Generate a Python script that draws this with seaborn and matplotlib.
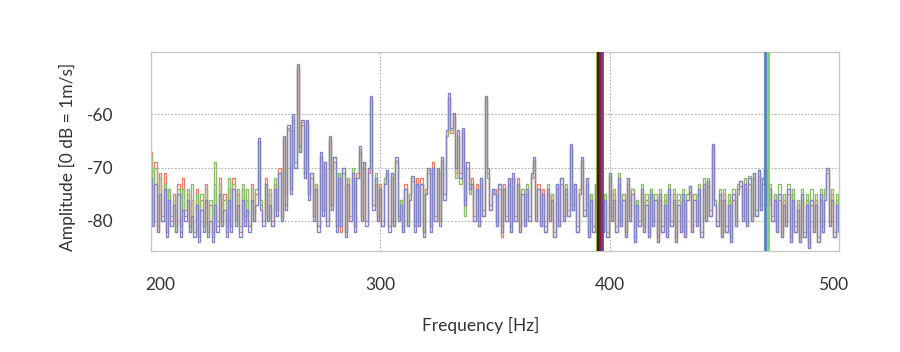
import matplotlib
matplotlib.use("Agg")
import matplotlib.pyplot as plt
import matplotlib.transforms as mtransforms
import numpy as np
import pandas as pd
import seaborn as sns

freq = list(range(200, 501))

blue = [
    -72, -81, -73, -82, -75, -80, -74, -83, -76, -81,
    -77, -82, -75, -83, -78, -80, -76, -82, -79, -83,
    -77, -84, -78, -82, -76, -83, -80, -84, -77, -82,
    -75, -81, -78, -83, -76, -82, -74, -81, -77, -83,
    -76, -81, -78, -82, -76, -80, -77, -64.5, -78, -81,
    -73, -80, -77, -81, -74, -79, -71, -80, -64, -78,
    -62, -75, -60, -70, -50.5, -67, -61, -72, -61, -76,
    -71, -80, -74, -82, -67, -79, -69, -81, -64, -78,
    -68, -82, -72, -81, -70, -83, -73, -80, -71, -82,
    -72, -66, -80, -69, -81, -70, -56.5, -78, -72, -80,
    -74, -81, -73, -70.5, -82, -71, -81, -68, -80, -77,
    -82, -74, -81, -76, -71.5, -82, -73, -81, -73, -83,
    -75, -70, -82, -70, -80, -70, -81, -68, -76, -63,
    -56, -62.5, -59.8, -70, -63, -72, -62.5, -77, -69, -74,
    -73, -80, -74, -81, -72, -79, -56.5, -70, -78, -74,
    -75, -81, -73, -82, -74, -80, -72, -82, -71, -80,
    -73, -82, -75, -81, -74, -80, -71, -68, -80, -74,
    -81, -75, -82, -74, -80, -76, -83, -73, -81, -72,
    -80, -74, -79, -65.5, -78, -73, -82, -75, -68, -79,
    -72, -83, -76, -82, -73, -80, -74, -82, -76, -83,
    -71, -80, -76, -82, -72, -81, -76, -83, -72, -80,
    -75, -84, -77, -81, -74, -82, -77, -83, -75, -81,
    -76, -84, -75, -82, -77, -83, -74, -81, -76, -84,
    -77, -82, -75, -83, -76, -73.5, -82, -76, -81, -74,
    -83, -73, -80, -72.5, -79, -65.5, -77, -81, -75, -83,
    -76, -82, -77, -84, -75, -81, -74, -72.5, -80, -73,
    -81, -72, -80, -71, -79, -70.5, -78, -72, -70, -77,
    -74, -80, -76, -82, -75, -83, -77, -81, -74, -84,
    -76, -82, -78, -84, -75, -83, -77, -85, -76, -82,
    -77, -84, -75, -82, -76, -70, -81, -76, -83, -77, -82,
]

red = [
    -67, -80, -69, -82, -71, -79, -71, -82, -74, -80,
    -75, -81, -73, -82, -72, -79, -75, -81, -76, -82,
    -74, -83, -76, -81, -73, -82, -77, -83, -73, -81,
    -72, -80, -75, -82, -74, -81, -72, -80, -75, -82,
    -74, -79, -76, -81, -73, -80, -75, -65, -77, -80,
    -72, -79, -75, -80, -73, -78, -70, -79, -65, -77,
    -63, -74, -61, -69, -51.5, -66, -62, -71, -62, -75,
    -72, -79, -73, -81, -68, -78, -70, -80, -65, -77,
    -69, -81, -71, -82, -71, -82, -72, -80, -72, -81,
    -71, -67, -80, -70, -80, -71, -57.5, -77, -73, -80,
    -73, -81, -72, -71, -81, -72, -81, -69, -80, -76,
    -82, -73, -81, -75, -72.5, -81, -72, -81, -72, -82,
    -74, -71, -81, -69, -80, -71, -80, -69, -75, -64,
    -57, -63.5, -60.5, -71, -64, -71, -63.5, -76, -70, -73,
    -72, -80, -73, -81, -73, -79, -57.5, -71, -78, -75,
    -74, -81, -74, -83, -73, -80, -73, -82, -72, -80,
    -72, -82, -74, -81, -75, -80, -72, -69, -80, -73,
    -81, -74, -82, -75, -80, -75, -83, -74, -81, -73,
    -80, -75, -79, -66.5, -78, -74, -82, -74, -69, -79,
    -73, -83, -75, -82, -74, -80, -73, -82, -75, -83,
    -72, -80, -75, -82, -73, -81, -75, -83, -73, -80,
    -74, -84, -76, -81, -75, -82, -76, -83, -74, -81,
    -75, -84, -76, -82, -76, -83, -75, -81, -75, -84,
    -76, -82, -76, -83, -75, -74.5, -82, -75, -81, -75,
    -83, -74, -80, -73.5, -79, -66.5, -76, -81, -76, -83,
    -75, -82, -76, -84, -76, -81, -75, -73.5, -80, -74,
    -81, -73, -80, -72, -79, -71.5, -78, -73, -71, -77,
    -75, -80, -75, -82, -76, -83, -76, -81, -75, -84,
    -75, -82, -77, -84, -76, -83, -76, -85, -77, -82,
    -76, -84, -76, -82, -75, -71, -81, -75, -83, -76, -82,
]

green = [
    -68, -81, -70, -81, -72, -80, -73, -82, -74, -79,
    -76, -82, -74, -81, -74, -78, -74, -82, -73, -82,
    -75, -83, -75, -81, -74, -82, -76, -82, -69, -80,
    -73, -81, -76, -81, -72, -81, -73, -80, -74, -81,
    -73, -80, -74, -81, -74, -80, -74, -65, -76, -80,
    -73, -80, -74, -81, -72, -78, -71, -80, -64.5, -75,
    -62.5, -74, -60.5, -70, -51, -67, -61.5, -72, -61.5, -75,
    -71, -79, -73, -81, -68, -78, -69, -80, -64.5, -77,
    -68, -81, -71, -80, -70, -82, -72, -79, -70, -81,
    -72, -66.5, -79, -69, -80, -70, -57, -77, -71, -79,
    -74, -80, -72, -71, -81, -71, -80, -68.5, -79, -76,
    -81, -74, -80, -75, -72, -81, -73, -80, -73, -82,
    -75, -70.5, -81, -70, -79, -70.5, -80, -68.5, -75, -64,
    -57, -63, -60, -72, -64, -73, -63, -79, -70, -75,
    -73, -79, -74, -80, -72, -78, -57, -72, -77, -74,
    -75, -80, -73, -81, -74, -79, -72, -81, -72, -79,
    -73, -81, -74, -80, -73, -79, -71, -68.5, -79, -74,
    -80, -75, -81, -73, -79, -75, -82, -73, -80, -72,
    -79, -73, -78, -66, -77, -73, -81, -74, -68.5, -78,
    -72, -82, -75, -81, -73, -79, -73, -81, -75, -82,
    -71, -79, -74, -81, -71, -80, -75, -82, -72, -79,
    -74, -83, -76, -80, -73, -81, -75, -82, -74, -80,
    -75, -83, -74, -81, -75, -82, -73, -80, -74, -83,
    -75, -81, -74, -82, -75, -73.5, -81, -75, -80, -73,
    -82, -72, -79, -72, -78, -66, -76, -80, -74, -82,
    -74, -81, -75, -83, -74, -80, -73, -72.5, -79, -72,
    -80, -71.5, -79, -71, -78, -70.5, -77, -72, -70, -76,
    -73, -79, -75, -81, -73, -82, -75, -80, -73, -83,
    -74, -81, -76, -83, -74, -82, -75, -84, -74, -81,
    -75, -83, -74, -81, -74, -70.5, -80, -74, -82, -75, -81,
]

series_names = ["red", "green", "blue"]
series_colors = ["#e8806c", "#8cbc6c", "#8282c4"]

marker_freqs = [394.4, 395.1, 395.8, 396.5, 467.9, 469.0]
marker_colors = ["#9a9a30", "#202020", "#8b2030", "#7a3a8a", "#4f86b4", "#7ccc78"]

df = pd.DataFrame({
    "freq": freq * 3,
    "amp": red + green + blue,
    "series": ["red"] * len(freq) + ["green"] * len(freq) + ["blue"] * len(freq),
})

sns.set_theme(style="white")
plt.rcParams["font.family"] = ["Lato", "DejaVu Sans"]
plt.rcParams["axes.unicode_minus"] = False

fig = plt.figure(figsize=(9, 3.52), dpi=100)
ax = fig.add_axes([151 / 900, 1 - 250.5 / 352, (839 - 151) / 900, (250.5 - 51.5) / 352])

sns.lineplot(data=df, x="freq", y="amp", hue="series", hue_order=series_names,
             palette=series_colors, drawstyle="steps-mid", linewidth=0.95,
             legend=False, ax=ax, estimator=None, sort=False)

for f, c in zip(marker_freqs, marker_colors):
    ax.axvline(f, color=c, linewidth=2.0, zorder=5)

ax.set_xlim(200, 500)
ax.set_ylim(-85.55, -48.2)
ax.set_xticks([200, 300, 400, 500])
ax.set_yticks([-60, -70, -80])
ax.grid(True, color="#b0b0b0", linestyle=(0, (1.5, 1.5)), linewidth=0.8)
ax.set_axisbelow(True)
for s in ax.spines.values():
    s.set_color("#c8c8c8")
    s.set_linewidth(1.0)

txt_color = "#333333"
ax.tick_params(axis="x", length=0, pad=19, labelsize=12.5, labelcolor=txt_color)
ax.tick_params(axis="y", length=0, pad=27, labelsize=12.5, labelcolor=txt_color)

labs = ax.get_xticklabels()
labs[0].set_transform(labs[0].get_transform() + mtransforms.ScaledTranslation(9 / 100, 0, fig.dpi_scale_trans))
labs[-1].set_transform(labs[-1].get_transform() + mtransforms.ScaledTranslation(-6 / 100, 0, fig.dpi_scale_trans))

ax.set_xlabel("Frequency [Hz]", fontsize=12.5, color=txt_color)
ax.set_ylabel("Amplitude [0 dB = 1m/s]", fontsize=12.5, color=txt_color)
ax.xaxis.set_label_coords((481 - 151) / 688, (250.5 - 317) / 199)
ax.yaxis.set_label_coords((76 - 151) / 688, (250.5 - 157) / 199)

fig.savefig("out.png", dpi=100)
